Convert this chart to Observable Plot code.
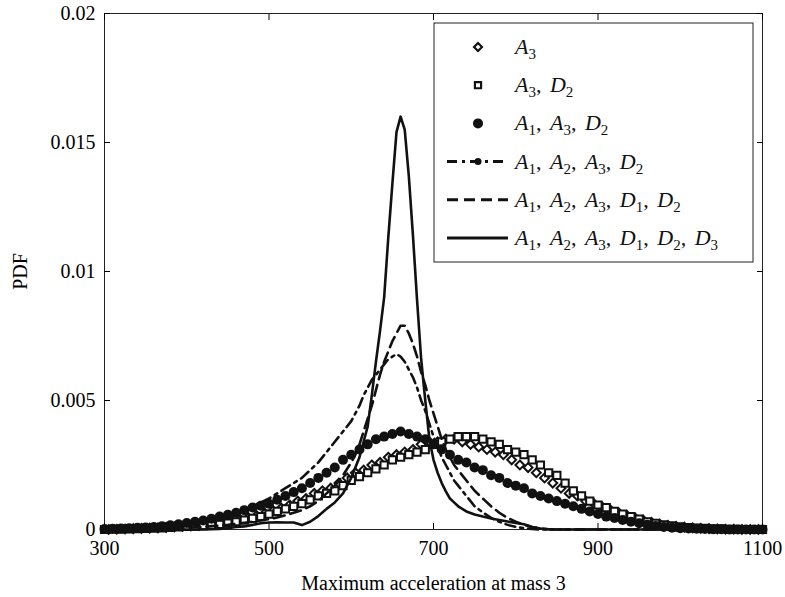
<!DOCTYPE html>
<html>
<head>
<meta charset="utf-8">
<script src="https://cdn.jsdelivr.net/npm/d3@7"></script>
<script src="https://cdn.jsdelivr.net/npm/@observablehq/plot@0.6"></script>
<style>
  html, body { margin: 0; padding: 0; background: #fff; }
  #wrap { position: relative; width: 785px; height: 597px; }
  #legend { position: absolute; left: 0; top: 0; pointer-events: none; }
</style>
</head>
<body>
<div id="wrap"></div>
<script>
// ---- axis ticks ----
const xTicks = [300, 500, 700, 900, 1100];
const yTicks = [0, 0.005, 0.01, 0.015, 0.02];

// ---- legend labels ----
const legendLabels = ["A3", "A3, D2", "A1, A3, D2", "A1, A2, A3, D2", "A1, A2, A3, D1, D2", "A1, A2, A3, D1, D2, D3"];

// ---- marker series grid ----
const markerX = [
  300,310,320,330,340,350,360,370,380,390,
  400,410,420,430,440,450,460,470,480,490,
  500,510,520,530,540,550,560,570,580,590,
  600,610,620,630,640,650,660,670,680,690,
  700,710,720,730,740,750,760,770,780,790,
  800,810,820,830,840,850,860,870,880,890,
  900,910,920,930,940,950,960,970,980,990,
  1000,1010,1020,1030,1040,1050,1060,1070,1080,1090,
  1100];
const diamondX = [
  305,315,325,335,345,355,365,375,385,395,
  405,415,425,435,445,455,465,475,485,495,
  505,515,525,535,545,555,565,575,585,595,
  605,615,625,635,645,655,665,675,685,695,
  705,715,725,735,745,755,765,775,785,795,
  805,815,825,835,845,855,865,875,885,895,
  905,915,925,935,945,955,965,975,985,995,
  1005,1015,1025,1035,1045,1055,1065,1075,1085,1095];

// A3 (diamonds)
const yA3 = [
  0,0.00001,0.00002,0.00003,0.00004,0.00005,0.00006,0.00008,0.0001,0.00012,
  0.00014,0.00016,0.00019,0.00022,0.00027,0.00032,0.00039,0.00046,0.00054,0.00063,
  0.00073,0.00083,0.00095,0.0011,0.0012,0.0014,0.0015,0.0016,0.0018,0.002,
  0.0022,0.0023,0.0025,0.0026,0.0028,0.0029,0.003,0.0031,0.0033,0.0034,
  0.0034,0.0035,0.0035,0.0034,0.0033,0.0032,0.0031,0.003,0.0029,0.0027,
  0.0025,0.0024,0.0022,0.002,0.0018,0.0016,0.0014,0.0013,0.0011,0.001,
  0.00088,0.00076,0.00065,0.00055,0.00045,0.00036,0.00028,0.00021,0.00016,0.00012,
  0.00009,0.00006,0.00004,0.00003,0.00002,0.00001,0.00001,0,0,0];

// A3, D2 (squares)
const yA3D2 = [
  0,0.00001,0.00001,0.00002,0.00003,0.00004,0.00005,0.00006,0.00008,0.0001,
  0.00012,0.00013,0.00015,0.00017,0.0002,0.00025,0.0003,0.00036,0.00043,0.0005,
  0.0006,0.0007,0.0008,0.0009,0.001,0.00115,0.0013,0.0014,0.0015,0.0017,
  0.0019,0.00205,0.0022,0.00235,0.0025,0.0027,0.0028,0.0029,0.003,0.0031,
  0.0033,0.0034,0.0035,0.0036,0.0036,0.0036,0.0035,0.0034,0.0033,0.0031,
  0.003,0.0029,0.0027,0.0025,0.0022,0.0021,0.0018,0.0015,0.0013,0.0011,
  0.00095,0.00085,0.0007,0.0006,0.0005,0.0004,0.0003,0.00024,0.00018,0.00014,
  0.0001,0.00007,0.00005,0.00004,0.00002,0.00002,0.00001,0.00001,0,0,
  0];

// A1, A3, D2 (filled circles)
const yA1A3D2 = [
  0.00002,0.00003,0.00004,0.00005,0.00007,0.00008,0.0001,0.00013,0.00016,0.0002,
  0.00025,0.0003,0.00035,0.00042,0.0005,0.00057,0.00065,0.00075,0.00085,0.00092,
  0.001,0.00115,0.0013,0.00145,0.0016,0.0018,0.002,0.0022,0.0024,0.0027,
  0.0029,0.0031,0.0033,0.0035,0.0036,0.0037,0.0038,0.0037,0.0036,0.0035,
  0.0033,0.0031,0.0029,0.0027,0.0026,0.0024,0.0023,0.0021,0.002,0.0018,
  0.0017,0.0016,0.0014,0.0013,0.0012,0.0011,0.001,0.0009,0.0008,0.0007,
  0.0006,0.0005,0.00045,0.00037,0.0003,0.00024,0.00018,0.00014,0.0001,0.00007,
  0.00005,0.00004,0.00003,0.00002,0.00001,0.00001,0,0,0,0,
  0];

// ---- line series grid ----
const lineX = [
  300,310,320,330,340,350,360,370,380,390,400,410,420,430,440,
  450,460,470,480,490,500,510,520,530,540,550,560,570,580,590,600,
  605,610,615,620,625,630,635,640,645,650,655,660,665,670,675,680,685,690,695,700,705,710,715,720,725,730,735,740,
  750,760,770,780,790,800,810,820,830,840,
  850,860,870,880,890,900,910,920,930,940,950,960,970,980,990,1000,1010,1020,1030,1040,1050,1060,1070,1080,1090,1100];

// A1, A2, A3, D2 (dash-dot)
const yA1A2A3D2 = [
  0,0.00001,0.00002,0.00003,0.00005,0.00007,0.0001,0.00012,0.00015,0.00018,0.00022,0.00026,0.0003,0.00036,0.00043,
  0.0005,0.0006,0.00075,0.0009,0.00105,0.0012,0.0014,0.0016,0.0018,0.002,0.0023,0.0026,0.003,0.0034,0.0038,0.0042,
  0.0045,0.0048,0.0052,0.0055,0.0058,0.006,0.0062,0.0064,0.0066,0.0067,0.0068,0.0067,0.0065,0.0062,0.0059,0.0055,0.005,0.0046,0.0041,0.0036,0.0032,0.0028,0.0025,0.0022,0.0019,0.0017,0.0015,0.0013,
  0.0009,0.00066,0.00045,0.0003,0.00018,0.0001,0.00005,0.00002,0,0,
  0,0,0,0,0,0,0,0,0,0,0,0,0,0,0,0,0,0,0,0,0,0,0,0,0,0];

// A1, A2, A3, D1, D2 (dashed)
const yA1A2A3D1D2 = [
  0,0,0.00001,0.00001,0.00002,0.00002,0.00003,0.00004,0.00005,0.00006,0.00007,0.00009,0.0001,0.00013,0.00015,
  0.00018,0.00022,0.00026,0.0003,0.00035,0.0004,0.00047,0.00055,0.00065,0.00075,0.0009,0.0011,0.0014,0.0017,0.0021,0.0026,
  0.0029,0.0033,0.0038,0.0043,0.0048,0.0054,0.006,0.0065,0.0069,0.0073,0.0076,0.0079,0.0079,0.0076,0.0072,0.0067,0.0061,0.0056,0.005,0.0045,0.004,0.0035,0.0031,0.0028,0.0025,0.0023,0.0021,0.0019,
  0.0015,0.0012,0.0009,0.00065,0.00045,0.0003,0.00018,0.0001,0.00004,0.00001,
  0,0,0,0,0,0,0,0,0,0,0,0,0,0,0,0,0,0,0,0,0,0,0,0,0,0];

// A1, A2, A3, D1, D2, D3 (solid)
const yAll = [
  0,0,0,0,0,0,0,0,0,0,0,0,0,0.00001,0.00002,
  0.00005,0.0001,0.00012,0.00018,0.00024,0.00027,0.00028,0.00027,0.00027,0.00017,0.0003,0.00052,0.0008,0.00105,0.0014,0.002,
  0.0024,0.0028,0.0034,0.004,0.0052,0.0065,0.0077,0.009,0.0113,0.0134,0.0154,0.016,0.0155,0.0137,0.0114,0.0089,0.0066,0.005,0.0035,0.0027,0.0022,0.0018,0.00148,0.0012,0.00105,0.0009,0.0008,0.0007,
  0.00058,0.0005,0.00043,0.00037,0.00031,0.00025,0.0002,0.0001,0.00004,0.00001,
  0,0,0,0,0,0,0,0,0,0,0,0,0,0,0,0,0,0,0,0,0,0,0,0,0,0];

const pts = (xs, ys) => xs.map((x, i) => ({x, y: ys[i]}));
const serif = "'Liberation Serif', 'Times New Roman', serif";

const chart = Plot.plot({
  width: 785,
  height: 597,
  marginLeft: 104,
  marginRight: 23,
  marginTop: 13,
  marginBottom: 68,
  style: {fontFamily: serif, fontSize: "20px", color: "black", background: "white", overflow: "visible"},
  x: {domain: [300, 1100]},
  y: {domain: [0, 0.02]},
  marks: [
    Plot.frame({stroke: "#222", strokeWidth: 1}),
    Plot.axisX({ticks: xTicks, tickSize: -6, tickPadding: 17, tickFormat: d => String(d), fontSize: 20,
      label: "Maximum acceleration at mass 3", labelAnchor: "center", labelOffset: 60, labelArrow: "none"}),
    Plot.axisX({anchor: "top", ticks: xTicks, tickSize: -6, tickFormat: () => "", label: null}),
    Plot.axisY({ticks: yTicks, tickSize: -6, tickPadding: 15, tickFormat: d => String(d), fontSize: 20,
      label: "PDF", labelAnchor: "center", labelOffset: 92, labelArrow: "none"}),
    Plot.axisY({anchor: "right", ticks: yTicks, tickSize: -6, tickFormat: () => "", label: null}),
    Plot.dot(pts(diamondX, yA3), {x: "x", y: "y", symbol: "diamond2", r: 4, stroke: "#111", strokeWidth: 2, fill: "white"}),
    Plot.dot(pts(markerX, yA3D2), {x: "x", y: "y", symbol: "square2", r: 4.6, stroke: "#111", strokeWidth: 2, fill: "white"}),
    Plot.dot(pts(markerX, yA1A3D2), {x: "x", y: "y", r: 5, fill: "#111", stroke: "none"}),
    Plot.line(pts(lineX, yA1A2A3D2), {x: "x", y: "y", stroke: "#111", strokeWidth: 2.6, strokeDasharray: "10,5,3,5"}),
    Plot.line(pts(lineX, yA1A2A3D1D2), {x: "x", y: "y", stroke: "#111", strokeWidth: 2.6, strokeDasharray: "11,6"}),
    Plot.line(pts(lineX, yAll), {x: "x", y: "y", stroke: "#111", strokeWidth: 2.6})
  ]
});
document.getElementById("wrap").appendChild(chart);

// ---- legend overlay ----
const leg = d3.select("#wrap").append("svg").attr("id", "legend").attr("width", 785).attr("height", 597);
const box = {x: 434, y: 23, w: 319, h: 239};
leg.append("rect").attr("x", box.x).attr("y", box.y).attr("width", box.w).attr("height", box.h)
  .attr("fill", "white").attr("stroke", "#222").attr("stroke-width", 1);
const rowY = i => box.y + 24 + i * 38.2;
const sx0 = box.x + 13, sx1 = box.x + 74, sxm = box.x + 44;
legendLabels.forEach((lab, i) => {
  const y = rowY(i);
  const g = leg.append("g");
  if (i === 0) {
    g.append("path").attr("d", d3.symbol(d3.symbolDiamond2, 40)()).attr("transform", `translate(${sxm},${y})`)
      .attr("fill", "white").attr("stroke", "#111").attr("stroke-width", 2.2);
  } else if (i === 1) {
    g.append("path").attr("d", d3.symbol(d3.symbolSquare2, 48)()).attr("transform", `translate(${sxm},${y})`)
      .attr("fill", "white").attr("stroke", "#111").attr("stroke-width", 2.2);
  } else if (i === 2) {
    g.append("circle").attr("cx", sxm).attr("cy", y).attr("r", 5).attr("fill", "#111");
  } else {
    const dash = i === 3 ? "10,5,3,5" : i === 4 ? "11,6" : null;
    const ln = g.append("line").attr("x1", sx0).attr("x2", sx1).attr("y1", y).attr("y2", y)
      .attr("stroke", "#111").attr("stroke-width", 3);
    if (dash) ln.attr("stroke-dasharray", dash);
    if (i === 3) g.append("circle").attr("cx", sxm).attr("cy", y).attr("r", 3.5).attr("fill", "#111");
  }
  const t = g.append("text").attr("x", box.x + 81).attr("y", y + 7)
    .attr("font-family", serif).attr("font-size", 22).attr("fill", "#111")
    .attr("xml:space", "preserve").style("white-space", "pre");
  lab.split(", ").forEach((tok, k) => {
    if (k > 0) t.append("tspan").attr("font-style", "normal").attr("dy", -5).text(", ");
    const main = t.append("tspan").attr("font-style", "italic").text(tok[0]);
    if (k > 0) main.attr("dx", 3);
    t.append("tspan").attr("font-style", "normal").attr("font-size", 15).attr("dy", 5).text(tok.slice(1));
  });
});
</script>
</body>
</html>
